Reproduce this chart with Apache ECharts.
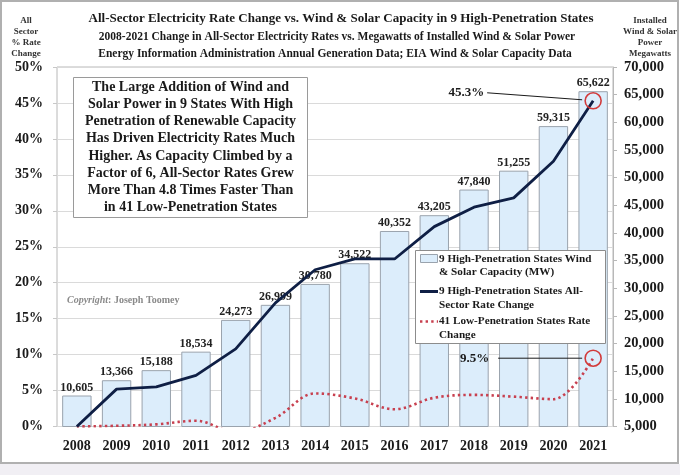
<!DOCTYPE html>
<html>
<head>
<meta charset="utf-8">
<script src="https://cdn.jsdelivr.net/npm/echarts@6/dist/echarts.min.js"></script>
<style>
html,body{margin:0;padding:0;background:#fff;}
#c{width:680px;height:475px;}
</style>
</head>
<body>
<div id="c"></div>
<script>
// ---- data ----
const years = ['2008','2009','2010','2011','2012','2013','2014','2015','2016','2017','2018','2019','2020','2021'];
const capacityMW = [10605, 13366, 15188, 18534, 24273, 26999, 30780, 34522, 40352, 43205, 47840, 51255, 59315, 65622];
const highPenRate = [0, 5.2, 5.5, 7.1, 10.8, 17.2, 21.8, 23.3, 23.3, 27.8, 30.5, 31.8, 36.9, 45.3];
const lowPenRate = [0, 0.1, 0.3, 0.8, -0.8, 1.2, 4.6, 3.9, 2.4, 4.0, 4.4, 4.15, 3.8, 9.5];
const seriesNames = ['9 High-Penetration States Wind & Solar Capacity (MW)',
                     '9 High-Penetration States All-Sector Rate Change',
                     '41 Low-Penetration States Rate Change'];
const legendLines = ['9 High-Penetration States Wind\n& Solar Capacity (MW)',
                     '9 High-Penetration States All-\nSector Rate Change',
                     '41 Low-Penetration States Rate\nChange'];
const titleLines = ['All-Sector Electricity Rate Change vs. Wind & Solar Capacity in 9 High-Penetration States',
                    '2008-2021 Change in All-Sector Electricity Rates vs. Megawatts of Installed Wind & Solar Power',
                    'Energy Information Administration Annual Generation Data; EIA Wind & Solar Capacity Data'];
const leftAxisTitle = 'All\nSector\n% Rate\nChange';
const rightAxisTitle = 'Installed\nWind & Solar\nPower\nMegawatts';
const noteText = 'The Large Addition of Wind and\nSolar Power in 9 States With High\nPenetration of Renewable Capacity\nHas Driven Electricity Rates Much\nHigher. As Capacity Climbed by a\nFactor of 6, All-Sector Rates Grew\nMore Than 4.8 Times Faster Than\nin 41 Low-Penetration States';
const copyrightName = 'Joseph Toomey';

const FONT = '"Liberation Serif", "DejaVu Serif", serif';
const BAR_FILL = '#dcedfb';
const BAR_EDGE = '#9aa3ad';
const NAVY = '#0f1f45';
const RED = '#c8404f';

const chart = echarts.init(document.getElementById('c'), null, {renderer: 'canvas'});

const option = {
  backgroundColor: '#ffffff',
  animation: false,
  grid: {left: 57, right: 67, top: 67, bottom: 48.5, show: true, borderColor: '#b8b8b8', borderWidth: 1, backgroundColor: 'transparent'},
  xAxis: {
    type: 'category', data: years,
    axisLine: {show: false}, axisTick: {show: false},
    axisLabel: {margin: 13, fontFamily: FONT, fontWeight: 'bold', fontSize: 14, color: '#1a1a1a'}
  },
  yAxis: [
    {
      type: 'value', min: 0, max: 50, interval: 5, position: 'left',
      axisLine: {show: false},
      axisTick: {show: true, length: 4, lineStyle: {color: '#c8c8c8'}},
      splitLine: {show: true, lineStyle: {color: '#dadada', width: 1}},
      axisLabel: {margin: 14, formatter: '{value}%', fontFamily: FONT, fontWeight: 'bold', fontSize: 14, color: '#1a1a1a'}
    },
    {
      type: 'value', min: 5000, max: 70000, interval: 5000, position: 'right',
      axisLine: {show: true, lineStyle: {color: '#b8b8b8'}},
      axisTick: {show: true, length: 4, lineStyle: {color: '#b8b8b8'}},
      splitLine: {show: false},
      axisLabel: {margin: 11, fontFamily: FONT, fontWeight: 'bold', fontSize: 14.5, color: '#1a1a1a',
        formatter: v => v.toLocaleString('en-US')}
    }
  ],
  series: [
    {
      name: seriesNames[0], type: 'bar', yAxisIndex: 1, data: capacityMW,
      barCategoryGap: '26%',
      itemStyle: {color: BAR_FILL, borderColor: BAR_EDGE, borderWidth: 1},
      label: {show: true, position: 'top', distance: 2, fontFamily: FONT, fontWeight: 'bold', fontSize: 12, color: '#222',
        formatter: p => p.value.toLocaleString('en-US')},
      z: 1
    },
    {
      name: seriesNames[2], type: 'line', yAxisIndex: 0, data: lowPenRate,
      smooth: 0.35, symbol: 'none', clip: true,
      lineStyle: {color: RED, width: 2.6, type: [2.4, 3.2], cap: 'butt'},
      markPoint: {
        symbol: 'circle', symbolSize: 16, silent: true,
        itemStyle: {color: 'rgba(0,0,0,0)', borderColor: '#d23a3a', borderWidth: 1.6},
        label: {show: false},
        data: [{coord: [years.length - 1, lowPenRate[lowPenRate.length - 1]]}]
      },
      z: 3
    },
    {
      name: seriesNames[1], type: 'line', yAxisIndex: 0, data: highPenRate,
      symbol: 'none',
      lineStyle: {color: NAVY, width: 2.8},
      markPoint: {
        symbol: 'circle', symbolSize: 16, silent: true,
        itemStyle: {color: 'rgba(0,0,0,0)', borderColor: '#d23a3a', borderWidth: 1.6},
        label: {show: false},
        data: [{coord: [years.length - 1, highPenRate[highPenRate.length - 1]]}]
      },
      z: 4
    }
  ]
};
chart.setOption(option);

// ---- annotations derived from the scales ----
const last = years.length - 1;
const pHigh = chart.convertToPixel({xAxisIndex: 0, yAxisIndex: 0}, [last, highPenRate[last]]);
const pLow = chart.convertToPixel({xAxisIndex: 0, yAxisIndex: 0}, [last, lowPenRate[last]]);

const legX = 415, legY = 250;
const LEG_FONT = 11.2;
const graphics = [
  // outer frame
  {type: 'rect', shape: {x: 1, y: 1, width: 677, height: 462}, style: {fill: 'none', stroke: '#b0b0b0', lineWidth: 2}, z: 0},
  {type: 'rect', shape: {x: 0, y: 464, width: 680, height: 11}, style: {fill: '#f1eff4'}, z: 0},
  // titles
  {type: 'text', x: 341, y: 19, style: {text: titleLines[0], fontFamily: FONT, fontWeight: 'bold', fontSize: 13, fill: '#1a1a1a', textAlign: 'center', textVerticalAlign: 'middle'}},
  {type: 'text', x: 337, y: 37, style: {text: titleLines[1], fontFamily: FONT, fontWeight: 'bold', fontSize: 11.5, fill: '#1a1a1a', textAlign: 'center', textVerticalAlign: 'middle'}},
  {type: 'text', x: 335, y: 54, style: {text: titleLines[2], fontFamily: FONT, fontWeight: 'bold', fontSize: 11.5, fill: '#1a1a1a', textAlign: 'center', textVerticalAlign: 'middle'}},
  {type: 'text', x: 26, y: 15, style: {text: leftAxisTitle, fontFamily: FONT, fontWeight: 'bold', fontSize: 9, lineHeight: 11, fill: '#333', textAlign: 'center'}},
  {type: 'text', x: 650, y: 15, style: {text: rightAxisTitle, fontFamily: FONT, fontWeight: 'bold', fontSize: 9, lineHeight: 11, fill: '#333', textAlign: 'center'}},
  // note box
  {type: 'rect', shape: {x: 73.5, y: 77.5, width: 234, height: 140}, style: {fill: '#fff', stroke: '#9a9a9a', lineWidth: 1}, z: 10},
  {type: 'text', x: 190.5, y: 79, z: 11, style: {text: noteText, fontFamily: FONT, fontWeight: 'bold', fontSize: 14, lineHeight: 17.1, fill: '#1a1a1a', textAlign: 'center'}},
  // copyright
  {type: 'text', x: 67, y: 300, z: 11, style: {
    text: '{i|Copyright}{n|: ' + copyrightName + '}',
    textVerticalAlign: 'middle',
    rich: {i: {fontFamily: FONT, fontStyle: 'italic', fontSize: 10, fill: '#8a8a8a', fontWeight: 'bold'},
           n: {fontFamily: FONT, fontSize: 10, fill: '#8a8a8a', fontWeight: 'bold'}}}},
  // legend
  {type: 'rect', shape: {x: legX + 0.5, y: legY + 0.5, width: 190, height: 93}, style: {fill: '#fff', stroke: '#8c8c8c', lineWidth: 1}, z: 10},
  {type: 'rect', shape: {x: legX + 5.5, y: legY + 4.5, width: 17, height: 8}, style: {fill: BAR_FILL, stroke: BAR_EDGE, lineWidth: 1}, z: 11},
  {type: 'line', shape: {x1: legX + 5, y1: legY + 41.5, x2: legX + 23, y2: legY + 41.5}, style: {stroke: NAVY, lineWidth: 3}, z: 11},
  {type: 'line', shape: {x1: legX + 5, y1: legY + 71.5, x2: legX + 23, y2: legY + 71.5}, style: {stroke: RED, lineWidth: 2.6, lineDash: [2.4, 3.2]}, z: 11},
  {type: 'text', x: legX + 24, y: legY + 2, z: 11, style: {text: legendLines[0], fontFamily: FONT, fontWeight: 'bold', fontSize: LEG_FONT, lineHeight: 13.6, fill: '#1a1a1a'}},
  {type: 'text', x: legX + 24, y: legY + 34.5, z: 11, style: {text: legendLines[1], fontFamily: FONT, fontWeight: 'bold', fontSize: LEG_FONT, lineHeight: 13.6, fill: '#1a1a1a'}},
  {type: 'text', x: legX + 24, y: legY + 64.5, z: 11, style: {text: legendLines[2], fontFamily: FONT, fontWeight: 'bold', fontSize: LEG_FONT, lineHeight: 13.6, fill: '#1a1a1a'}},
  // callouts
  {type: 'text', x: pHigh[0] - 109, y: pHigh[1] - 8, z: 11, style: {text: highPenRate[last].toFixed(1) + '%', fontFamily: FONT, fontWeight: 'bold', fontSize: 13, fill: '#1a1a1a', textAlign: 'right', textVerticalAlign: 'middle'}},
  {type: 'line', shape: {x1: pHigh[0] - 106, y1: pHigh[1] - 8, x2: pHigh[0] - 11, y2: pHigh[1] - 1}, style: {stroke: '#1a1a1a', lineWidth: 1}, z: 11},
  {type: 'text', x: pLow[0] - 104, y: pLow[1], z: 11, style: {text: lowPenRate[last].toFixed(1) + '%', fontFamily: FONT, fontWeight: 'bold', fontSize: 13, fill: '#1a1a1a', textAlign: 'right', textVerticalAlign: 'middle'}},
  {type: 'line', shape: {x1: pLow[0] - 95, y1: pLow[1], x2: pLow[0] - 11, y2: pLow[1]}, style: {stroke: '#1a1a1a', lineWidth: 1}, z: 11}
];
chart.setOption({graphic: graphics});
</script>
</body>
</html>
